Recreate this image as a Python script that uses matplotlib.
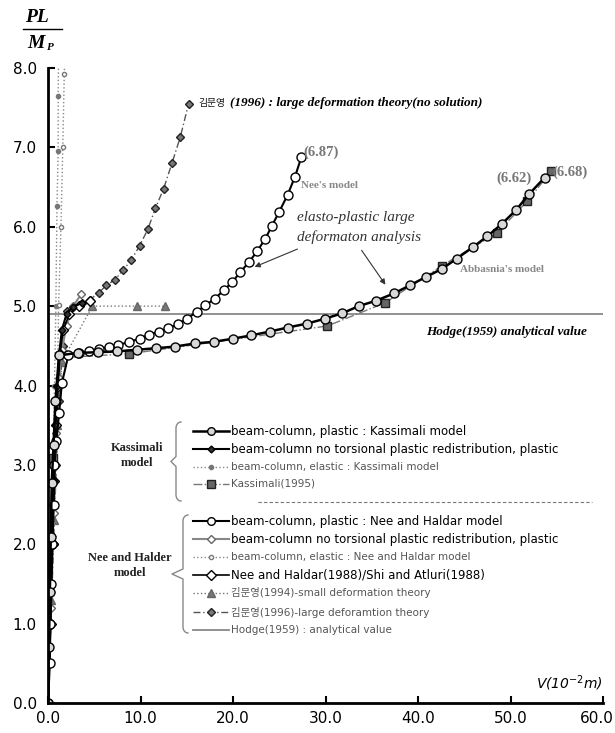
import matplotlib
matplotlib.use("Agg")
import matplotlib.pyplot as plt
from matplotlib.lines import Line2D
import matplotlib.transforms as mtransforms
import numpy as np

plt.rcParams['font.family'] = ['DejaVu Sans', 'Noto Sans CJK KR']

# ---------------- data ----------------
# Kassimali model, beam-column plastic
kpl_v = [0.0, 0.1, 0.2, 0.3, 0.4, 0.6, 0.8, 1.2, 3.2, 5.4, 7.5, 9.6, 11.7, 13.7, 15.9, 17.9, 20.0,
         21.9, 24.0, 25.9, 28.0, 29.9, 31.8, 33.6, 35.5, 37.4, 39.1, 40.9, 42.6, 44.2, 45.9, 47.5,
         49.1, 50.6, 52.0, 53.7]
kpl_p = [0.0, 0.70, 1.40, 2.09, 2.77, 3.25, 3.80, 4.38, 4.41, 4.42, 4.43, 4.45, 4.47, 4.49, 4.53,
         4.55, 4.59, 4.63, 4.68, 4.73, 4.78, 4.84, 4.91, 5.00, 5.07, 5.16, 5.26, 5.37, 5.47, 5.60,
         5.74, 5.88, 6.04, 6.21, 6.41, 6.62]
# Kassimali model, no torsional plastic redistribution
knt_v = [0.0, 0.15, 0.3, 0.45, 0.6, 0.8, 1.0, 1.2, 1.5, 2.0, 2.7, 3.7]
knt_p = [0.0, 0.7, 1.4, 2.1, 2.8, 3.5, 4.0, 4.4, 4.7, 4.9, 4.99, 5.04]
# Kassimali model, elastic
kel_v = [0.0, 0.2, 0.4, 0.55, 0.7, 0.85, 0.97, 1.1, 1.1, 1.15]
kel_p = [0.0, 1.0, 2.0, 3.0, 4.0, 5.0, 6.26, 6.96, 7.65, 8.4]
# Kassimali (1995)
k95_v = [0.0, 0.3, 0.57, 1.0, 1.5, 8.8, 20.0, 30.2, 36.4, 42.6, 48.5, 51.8, 54.4]
k95_p = [0.0, 1.5, 3.09, 4.1, 4.35, 4.40, 4.58, 4.75, 5.04, 5.51, 5.92, 6.32, 6.70]
k95_marks = [2, 5, 7, 8, 9, 10, 11, 12]
# Nee and Haldar model, beam-column plastic
npl_v = [0.0, 0.2, 0.25, 0.3, 0.45, 0.6, 0.7, 0.9, 1.2, 1.5, 2.2, 3.3, 4.4, 5.5, 6.6, 7.6, 8.8,
         9.9, 10.9, 12.0, 13.0, 14.0, 15.0, 16.1, 17.0, 18.0, 19.0, 19.9, 20.8, 21.7, 22.6, 23.5,
         24.2, 25.0, 25.9, 26.7, 27.4]
npl_p = [0.0, 0.5, 1.0, 1.5, 2.0, 2.5, 3.0, 3.3, 3.65, 4.03, 4.38, 4.41, 4.43, 4.46, 4.49, 4.51,
         4.55, 4.59, 4.64, 4.68, 4.72, 4.77, 4.84, 4.93, 5.01, 5.09, 5.20, 5.30, 5.43, 5.55, 5.69,
         5.85, 6.01, 6.19, 6.40, 6.63, 6.88]
# Nee and Haldar model, no torsional plastic redistribution
nnt_v = [0.0, 0.3, 0.6, 0.9, 1.2, 1.5, 2.0, 2.7, 3.6]
nnt_p = [0.0, 1.2, 2.4, 3.4, 4.1, 4.45, 4.75, 5.0, 5.15]
# Nee and Haldar model, elastic
nel_v = [0.0, 0.3, 0.6, 0.85, 1.0, 1.15, 1.4, 1.6, 1.76, 1.9]
nel_p = [0.0, 1.0, 2.0, 3.0, 4.0, 5.02, 6.0, 7.01, 7.93, 8.5]
# Nee and Haldar (1988) / Shi and Atluri (1988)
ns_v = [0.0, 0.3, 0.5, 0.7, 0.9, 1.1, 1.3, 1.65, 2.3, 3.3, 4.5]
ns_p = [0.0, 1.0, 2.0, 2.8, 3.5, 4.0, 4.4, 4.70, 4.90, 5.0, 5.07]
# Kim (1994) small deformation theory
km94_v = [0.0, 0.3, 0.6, 1.0, 1.5, 4.8, 9.6, 12.7]
km94_p = [0.0, 1.3, 2.3, 3.5, 4.3, 5.0, 5.0, 5.0]
# Kim (1996) large deformation theory
km96_v = [0.0, 0.3, 0.6, 0.9, 1.2, 1.6, 2.1, 2.7, 3.7, 4.5, 5.5, 6.3, 7.2, 8.1, 9.0, 9.9, 10.8,
          11.6, 12.5, 13.4, 14.3, 15.2]
km96_p = [0.0, 1.0, 2.0, 3.0, 3.8, 4.5, 4.94, 4.99, 5.04, 5.08, 5.17, 5.26, 5.33, 5.45, 5.58,
          5.76, 5.97, 6.23, 6.48, 6.80, 7.13, 7.55]
# Hodge (1959) analytical value
hodge_p = 4.9
hodge_v = [0.0, 60.0]

x_ticks = [0, 10, 20, 30, 40, 50, 60]
y_ticks = [0, 1, 2, 3, 4, 5, 6, 7, 8]

legend_k = ["beam-column, plastic : Kassimali model",
            "beam-column no torsional plastic redistribution, plastic",
            "beam-column, elastic : Kassimali model",
            "Kassimali(1995)"]
legend_n = ["beam-column, plastic : Nee and Haldar model",
            "beam-column no torsional plastic redistribution, plastic",
            "beam-column, elastic : Nee and Haldar model",
            "Nee and Haldar(1988)/Shi and Atluri(1988)",
            "김문영(1994)-small deformation theory",
            "김문영(1996)-large deforamtion theory",
            "Hodge(1959) : analytical value"]

# ---------------- figure ----------------
W, H = 615, 733
fig = plt.figure(figsize=(W / 100, H / 100), dpi=100)
fig.patch.set_facecolor('white')

def fx(px):
    return px / W

def fy(py):
    return 1 - py / H

ax = fig.add_axes([fx(48), fy(703), (603 - 48) / W, (703 - 68) / H])
ax.set_xlim(0, 60)
ax.set_ylim(0, 8)
for s in ['top', 'right']:
    ax.spines[s].set_visible(False)
for s in ['left', 'bottom']:
    ax.spines[s].set_linewidth(2)
ax.set_xticks(x_ticks)
ax.set_xticklabels([f"{v:.1f}" for v in x_ticks])
ax.set_yticks(y_ticks)
ax.set_yticklabels([f"{v:.1f}" for v in y_ticks])
ax.tick_params(direction='in', length=5, width=1.5, labelsize=11, pad=6)
ax.tick_params(axis='y', pad=8)
last = ax.get_xticklabels()[-1]
last.set_transform(last.get_transform() +
                   mtransforms.ScaledTranslation(-6 / 100, 0, fig.dpi_scale_trans))

styles = dict(
    km94=dict(color='#777777', ls=':', lw=1.0, marker='^', ms=5.5, mfc='#777777', mec='#666666'),
    kel=dict(color='#888888', ls=':', lw=1.0, marker='o', ms=3, mfc='#777777', mec='#777777'),
    nel=dict(color='#888888', ls=':', lw=1.0, marker='o', ms=3, mfc='white', mec='#777777'),
    hodge=dict(color='#888888', ls='-', lw=1.3),
    k95=dict(color='#777777', ls='-.', lw=1.0, marker='s', ms=5.5, mfc='#666666', mec='#222222'),
    km96=dict(color='#555555', ls=(0, (5, 2, 1, 2)), lw=1.0, marker='D', ms=4.5, mfc='#777777', mec='#222222'),
    nnt=dict(color='#888888', ls='-', lw=1.5, marker='D', ms=4, mfc='white', mec='#666666'),
    ns=dict(color='black', ls='-', lw=1.2, marker='D', ms=5, mfc='white', mec='black'),
    knt=dict(color='black', ls='-', lw=1.5, marker='D', ms=3.5, mfc='#333333', mec='black'),
    npl=dict(color='black', ls='-', lw=1.5, marker='o', ms=6.5, mfc='white', mec='black'),
    kpl=dict(color='black', ls='-', lw=1.8, marker='o', ms=6.5, mfc='#d8d8d8', mec='black'),
)

ax.plot(hodge_v, [hodge_p, hodge_p], **styles['hodge'])
ax.plot(kel_v, kel_p, **styles['kel'])
ax.plot(nel_v, nel_p, **styles['nel'])
ax.plot(km94_v, km94_p, **styles['km94'])
ax.plot(km96_v, km96_p, **styles['km96'])
ax.plot(k95_v, k95_p, markevery=k95_marks, **styles['k95'])
ax.plot(nnt_v, nnt_p, **styles['nnt'])
ax.plot(ns_v, ns_p, **styles['ns'])
ax.plot(knt_v, knt_p, **styles['knt'])
ax.plot(npl_v, npl_p, **styles['npl'])
ax.plot(kpl_v, kpl_p, **styles['kpl'])

# ---------------- annotations ----------------
serif = ['Liberation Serif', 'Noto Sans CJK KR']
fig.text(fx(37), fy(17), "PL", fontsize=14, fontweight='bold', style='italic',
         family=serif, ha='center', va='center')
fig.add_artist(Line2D([fx(23), fx(62)], [fy(29), fy(29)], color='black', lw=1))
fig.text(fx(36), fy(43), "M", fontsize=14, fontweight='bold', style='italic',
         family=serif, ha='center', va='center')
fig.text(fx(50), fy(47), "P", fontsize=8, fontweight='bold', style='italic',
         family=serif, ha='center', va='center')

fig.text(fx(603), fy(683), r"V(10$^{-2}$m)", fontsize=10, style='italic', ha='right', va='center')

fig.text(fx(198), fy(103), "김문영", fontsize=7, family=['Noto Sans CJK KR'],
         ha='left', va='center', color='#111111')
fig.text(fx(230), fy(103), "(1996) : large deformation theory(no solution)", fontsize=9.5,
         fontweight='bold', style='italic', family=serif, ha='left', va='center')
fig.text(fx(303), fy(152), "(6.87)", fontsize=10.5, fontweight='bold', color='#777777',
         family=serif, ha='left', va='center')
fig.text(fx(301), fy(186), "Nee's model", fontsize=8, fontweight='bold', color='#888888',
         family=serif, ha='left', va='center')
fig.text(fx(297), fy(218), "elasto-plastic large", fontsize=11, style='italic',
         color='#333333', family=serif, ha='left', va='center')
fig.text(fx(297), fy(237), "deformaton analysis", fontsize=11, style='italic',
         color='#333333', family=serif, ha='left', va='center')
fig.text(fx(496), fy(178), "(6.62)", fontsize=10.5, fontweight='bold', color='#777777',
         family=serif, ha='left', va='center')
fig.text(fx(552), fy(172), "(6.68)", fontsize=10.5, fontweight='bold', color='#777777',
         family=serif, ha='left', va='center')
fig.text(fx(460), fy(269), "Abbasnia's model", fontsize=8, fontweight='bold', color='#888888',
         family=serif, ha='left', va='center')
fig.text(fx(426), fy(332), "Hodge(1959) analytical value", fontsize=9.5, fontweight='bold',
         style='italic', family=serif, ha='left', va='center')

for (x0, y0, x1, y1) in [(300, 248, 252, 268), (360, 248, 387, 287)]:
    fig.add_artist(matplotlib.patches.FancyArrowPatch(
        (fx(x0), fy(y0)), (fx(x1), fy(y1)), transform=fig.transFigure,
        arrowstyle='-|>', mutation_scale=8, lw=0.8, color='#333333'))

# ---------------- legend ----------------
def legend_row(py, style, label, big):
    kw = {k: v for k, v in style.items() if k not in ('marker', 'ms', 'mfc', 'mec')}
    fig.add_artist(Line2D([fx(193), fx(229)], [fy(py), fy(py)], **kw))
    if 'marker' in style:
        fig.add_artist(Line2D([fx(211)], [fy(py)], ls='none', marker=style['marker'],
                              ms=min(style['ms'], 5.5), mfc=style['mfc'], mec=style['mec']))
    fig.text(fx(231), fy(py), label, fontsize=8.5 if big else 7.5,
             color='black' if big else '#555555', ha='left', va='center')

rows_k = [(431, 'kpl', True), (449, 'knt', True), (467, 'kel', False), (484, 'k95', False)]
rows_n = [(521, 'npl', True), (539, 'nnt', True), (557, 'nel', False), (575, 'ns', True),
          (593, 'km94', False), (612, 'km96', False), (630, 'hodge', False)]
for (py, key, big), lab in zip(rows_k, legend_k):
    legend_row(py, styles[key], lab, big)
for (py, key, big), lab in zip(rows_n, legend_n):
    legend_row(py, styles[key], lab, big)

fig.add_artist(Line2D([fx(258), fx(592)], [fy(502), fy(502)], color='#777777', lw=0.8,
                      ls=(0, (3, 2))))

def brace(top, bottom, xr, xl):
    mid = (top + bottom) / 2
    xm = xr - 5
    pts = []
    t = np.linspace(0, np.pi / 2, 8)
    pts += [(xm + 5 * (1 - np.sin(a)), top + 6 * (1 - np.cos(a))) for a in t]
    pts += [(xm, mid - 5)]
    pts += [(xl, mid)]
    pts += [(xm, mid + 5)]
    pts += [(xm + 5 * (1 - np.sin(a)), bottom - 6 * (1 - np.cos(a))) for a in t[::-1]]
    xs = [fx(p[0]) for p in pts]
    ys = [fy(p[1]) for p in pts]
    fig.add_artist(Line2D(xs, ys, color='#888888', lw=1))

brace(422, 501, 181, 171)
brace(515, 633, 188, 172)

fig.text(fx(137), fy(448), "Kassimali", fontsize=9, fontweight='bold', family=serif,
         color='#222222', ha='center', va='center')
fig.text(fx(137), fy(463), "model", fontsize=9, fontweight='bold', family=serif,
         color='#222222', ha='center', va='center')
fig.text(fx(130), fy(558), "Nee and Halder", fontsize=9, fontweight='bold', family=serif,
         color='#222222', ha='center', va='center')
fig.text(fx(130), fy(573), "model", fontsize=9, fontweight='bold', family=serif,
         color='#222222', ha='center', va='center')

fig.savefig("out.png", dpi=100)
